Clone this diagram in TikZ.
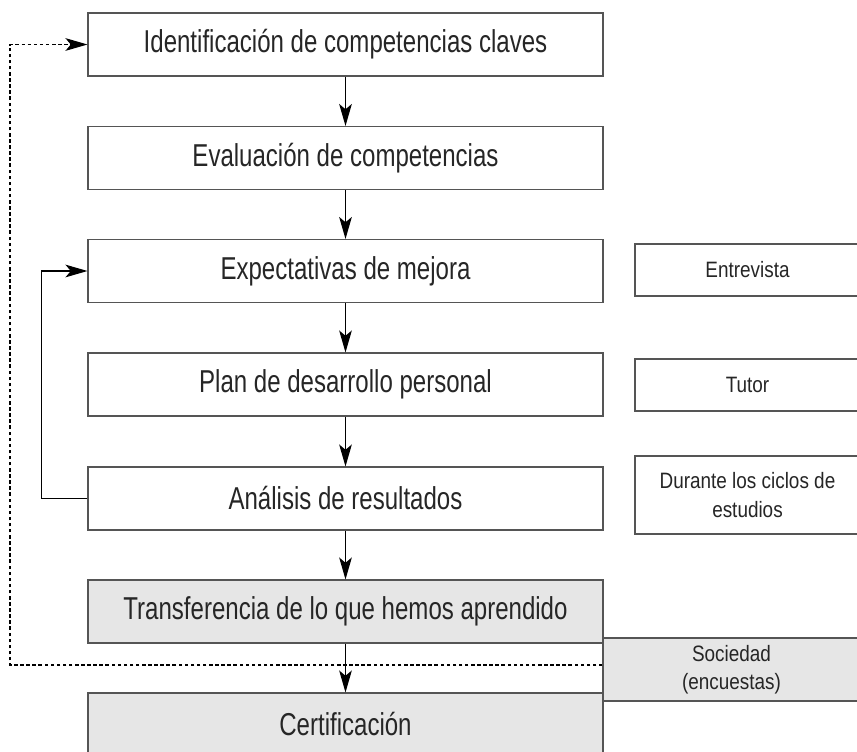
\documentclass[tikz,border=0pt]{standalone}
\usepackage{fontspec}
\setmainfont[FakeStretch=0.76]{Liberation Sans}
\newfontfamily\sidefont[FakeStretch=0.85]{Liberation Sans}
\usetikzlibrary{arrows.meta,calc,positioning}
\definecolor{boxline}{HTML}{555555}
\definecolor{boxfill}{HTML}{E6E6E6}
\tikzset{
  stepbox/.style={draw=boxline, line width=0.9pt, fill=white, minimum width=15.45cm, minimum height=1.89cm, align=center, inner sep=0pt, font=\fontsize{27}{32}\selectfont, text=black!85},
  sidebox/.style={draw=boxline, line width=0.9pt, fill=white, minimum width=6.75cm, minimum height=1.56cm, align=center, inner sep=0pt, font=\sidefont\fontsize{19}{24}\selectfont, text=black!85},
  flow/.style={-{Stealth[length=6.6mm, width=3.8mm, inset=1.6mm]}, line width=1pt, black},
  backflow/.style={-{Stealth[length=6.6mm, width=3.8mm, inset=1.6mm]}, line width=0.9pt, black, dash pattern=on 3pt off 2.2pt}
}
\begin{document}
\begin{tikzpicture}[x=0.03cm, y=-0.03cm]
  \useasboundingbox (0,0) rectangle (857,752);
  % main sequence
  \node[stepbox] (ident) at (345.5,44.5) {Identificación de competencias claves};
  \node[stepbox] (eval) at (345.5,158) {Evaluación de competencias};
  \node[stepbox] (expect) at (345.5,271) {Expectativas de mejora};
  \node[stepbox] (plan) at (345.5,384.5) {Plan de desarrollo personal};
  \node[stepbox] (analisis) at (345.5,498.5) {Análisis de resultados};
  \node[stepbox, fill=boxfill] (transf) at (345.5,611.5) {Transferencia de lo que hemos aprendido};
  \node[stepbox, fill=boxfill] (cert) at (345.5,724.5) {Certificación};

  % side notes
  \node[sidebox] (entrev) at (747.5,270) {Entrevista};
  \node[sidebox] (tutor) at (747.5,385) {Tutor};
  \node[sidebox, minimum height=2.34cm] (ciclos) at (747.5,495) {Durante los ciclos de\\estudios};
  \node[sidebox, fill=boxfill, minimum width=7.71cm, minimum height=1.89cm] (soc) at (731.5,669.5) {Sociedad\\(encuestas)};

  \coordinate (back) at (10,665);

  \draw[flow] (ident) -- (eval);
  \draw[flow] (eval) -- (expect);
  \draw[flow] (expect) -- (plan);
  \draw[flow] (plan) -- (analisis);
  \draw[flow] (analisis) -- (transf);
  \draw[flow] (transf) -- (cert);

  % feedback loops
  \draw[flow, line width=0.9pt] (analisis.west) -- ++(-46,0) |- (expect.west);
  \draw[backflow] (soc.west |- back) -- (back) |- (ident.west);
\end{tikzpicture}
\end{document}
